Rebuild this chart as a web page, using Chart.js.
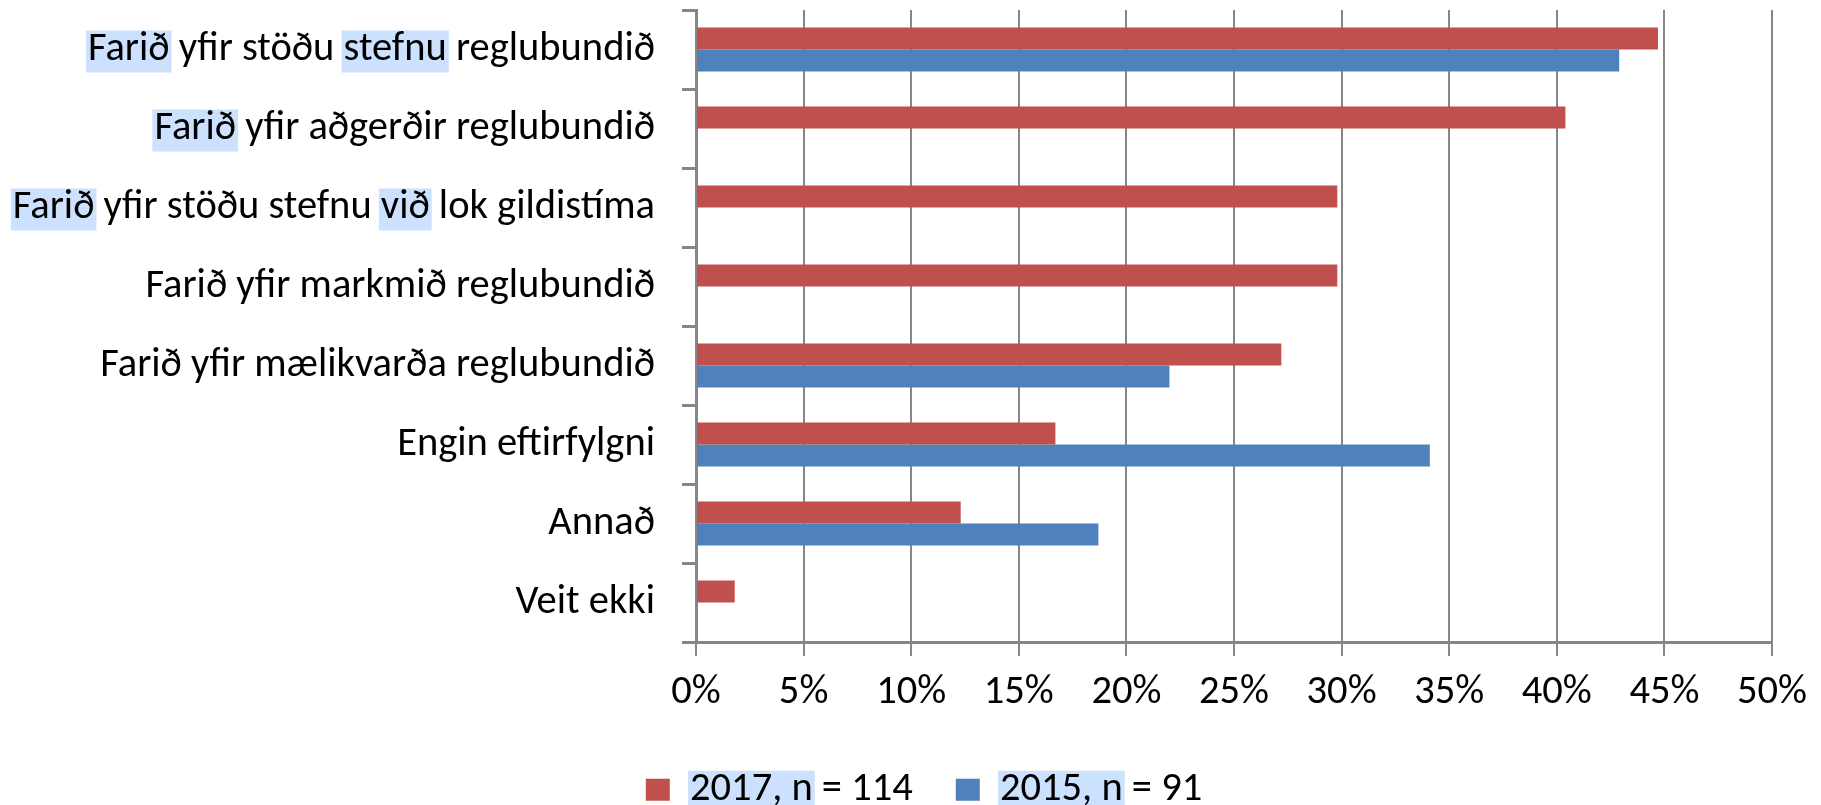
<!DOCTYPE html>
<html>
<head>
<meta charset="utf-8">
<script src="https://cdn.jsdelivr.net/npm/chart.js@4/dist/chart.umd.min.js"></script>
<style>
  html, body { margin: 0; padding: 0; background: #fff; }
  #wrap { width: 1821px; height: 805px; }
</style>
</head>
<body>
<div id="wrap"><canvas id="barChart" width="1821" height="805"></canvas></div>
<script>
// data (percent)
const categories = [
  "Farið yfir stöðu stefnu reglubundið",
  "Farið yfir aðgerðir reglubundið",
  "Farið yfir stöðu stefnu við lok gildistíma",
  "Farið yfir markmið reglubundið",
  "Farið yfir mælikvarða reglubundið",
  "Engin eftirfylgni",
  "Annað",
  "Veit ekki",
];
const values2017 = [44.7, 40.4, 29.8, 29.8, 27.2, 16.7, 12.3, 1.8];
const values2015 = [42.9, null, null, null, 22.0, 34.1, 18.7, 0];
const seriesNames = ["2017, n = 114", "2015, n = 91"];
const xTicks = [0, 5, 10, 15, 20, 25, 30, 35, 40, 45, 50];

// words with the light blue marker behind them
const markedWords = [["Farið", "stefnu"], ["Farið"], ["Farið", "við"], [], [], [], [], []];
const markedLegend = ["2017, n", "2015, n"];

const FONT = "Carlito, Lato, sans-serif";
const FS = 40.5;
const GRID = "#868686";
const MARK = "#cce1fd";

// the legend sits lower and further right than chart.js puts it
const legendShift = {
  id: "legendShift",
  afterLayout(chart) {
    const lg = chart.legend;
    lg.top += 15;
    lg.bottom += 15;
    lg.left += 38;
    lg.right += 38;
  },
};

// marker boxes, painted under the text that is already there
const markers = {
  id: "markers",
  afterDraw(chart) {
    const ctx = chart.ctx;
    ctx.save();
    ctx.font = FS + "px " + FONT;
    ctx.globalCompositeOperation = "destination-over";
    ctx.fillStyle = MARK;
    const ys = chart.scales.y;
    const right = ys.right - 14 - 27;
    categories.forEach((label, i) => {
      const cy = ys.getPixelForValue(i);
      const start = right - ctx.measureText(label).width;
      markedWords[i].forEach((w) => {
        const idx = label.indexOf(w);
        const x0 = start + ctx.measureText(label.slice(0, idx)).width;
        const ww = ctx.measureText(w).width;
        ctx.fillRect(x0 - 2, cy - 19, ww + 4, 42);
      });
    });
    const lg = chart.legend;
    const cy = lg.top + lg.options.labels.padding + FS / 2;
    lg.legendHitBoxes.forEach((hb, i) => {
      const x0 = hb.left + 24 + FS / 2;
      const ww = ctx.measureText(markedLegend[i]).width;
      ctx.fillRect(x0 - 2, cy - 19, ww + 4, 42);
    });
    ctx.restore();
  },
};

const barCtx = document.getElementById("barChart").getContext("2d");
const barChart = new Chart(barCtx, {
  type: "bar",
  data: {
    labels: categories,
    datasets: [
      {
        label: seriesNames[0],
        data: values2017,
        backgroundColor: "#C0504D",
        borderWidth: 0,
      },
      {
        label: seriesNames[1],
        data: values2015,
        backgroundColor: "#4F81BD",
        borderWidth: 0,
      },
    ],
  },
  options: {
    indexAxis: "y",
    responsive: false,
    animation: false,
    devicePixelRatio: 1,
    categoryPercentage: 0.557,
    barPercentage: 1.0,
    layout: { padding: { top: 10, right: 49, left: 0, bottom: 0 } },
    plugins: {
      tooltip: { enabled: false },
      legend: {
        position: "bottom",
        labels: {
          boxWidth: 24,
          boxHeight: 22,
          padding: 43,
          color: "#000",
          font: { family: FONT, size: FS },
        },
      },
    },
    scales: {
      x: {
        min: 0,
        max: 50,
        afterBuildTicks: (s) => {
          s.ticks = xTicks.map((v) => ({ value: v }));
        },
        afterFit: (s) => {
          s.height = 69.5;
        },
        ticks: {
          callback: (v) => v + "%",
          padding: 13,
          color: "#000",
          maxRotation: 0,
          autoSkip: false,
          font: { family: FONT, size: FS },
        },
        grid: { color: GRID, lineWidth: 2, tickLength: 14 },
        border: { color: GRID, width: 3 },
      },
      y: {
        afterFit: (s) => {
          s.width = 696;
          s.paddingTop = 0;
          s.paddingBottom = 0;
        },
        ticks: {
          padding: 27,
          color: "#000",
          autoSkip: false,
          font: { family: FONT, size: FS },
        },
        grid: {
          offset: true,
          drawOnChartArea: false,
          tickLength: 14,
          color: GRID,
          lineWidth: 3,
        },
        border: { color: GRID, width: 3 },
      },
    },
  },
  plugins: [legendShift, markers],
});
</script>
</body>
</html>
